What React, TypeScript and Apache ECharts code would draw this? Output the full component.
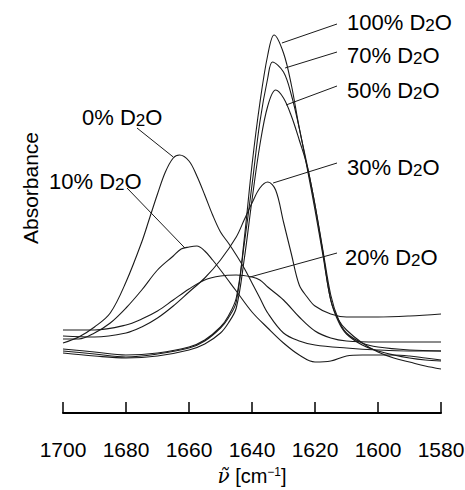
import React, { useEffect, useRef } from "react";
import * as echarts from "echarts";

// x-axis ticks (wavenumber, cm^-1)
const wavenumberTicks = [1700, 1680, 1660, 1640, 1620, 1600, 1580];

// Absorbance (arbitrary units), [wavenumber, absorbance]
const d2o0: [number, number][] = [[1700,70],[1695,76],[1690,86],[1685,100],[1680,131],[1675,171],[1672.5,195],[1670,219],[1667.5,241],[1665,255],[1663,258],[1660,252],[1657.5,237],[1655,218],[1652.5,198],[1650,181],[1647.5,170],[1645,158],[1642.5,145],[1640,130],[1637.5,115],[1635,100],[1630,80],[1625,72],[1620,68],[1610,65],[1600,63],[1590,62],[1580,62]];
const d2o10: [number, number][] = [[1700,74],[1695,74],[1690,80],[1685,90],[1680,105],[1675,123],[1670,143],[1665,157],[1662.5,164],[1660,166],[1657.5,167],[1655,162],[1652.5,153],[1650,143],[1645,122],[1640,101],[1635,85],[1630,70],[1625,58],[1620,51],[1615,52],[1610,57],[1605,58],[1600,58],[1595,58],[1590,57],[1585,55],[1580,53]];
const d2o20: [number, number][] = [[1700,83],[1690,83],[1680,88],[1675,94],[1670,102],[1665,113],[1660,124],[1655,133],[1650,137],[1645,138],[1640,136],[1637.5,133],[1635,126],[1630,113],[1625,96],[1620,82],[1615,75],[1610,72],[1600,71],[1590,71],[1580,71]];
const d2o30: [number, number][] = [[1700,77],[1690,76],[1680,80],[1675,86],[1670,95],[1665,107],[1660,121],[1655,135],[1650,153],[1645,176],[1642.5,193],[1640,210],[1637.5,225],[1635,231],[1632.5,223],[1630,191],[1627.5,159],[1625,128],[1622.5,116],[1620,107],[1615,99],[1610,96],[1600,96],[1590,97],[1580,99]];
const d2o50: [number, number][] = [[1700,60],[1690,57],[1680,55],[1670,57],[1660,63],[1655,69],[1650,80],[1647.5,90],[1645,105],[1642.5,153],[1640,213],[1637.5,268],[1635,307],[1632.5,323],[1630,315],[1627.5,297],[1625,273],[1622.5,247],[1620,208],[1617.5,163],[1615,118],[1612.5,93],[1610,80],[1605,70],[1600,66],[1590,63],[1580,62]];
const d2o70: [number, number][] = [[1700,64],[1690,61],[1680,58],[1670,60],[1660,66],[1655,73],[1650,86],[1647.5,97],[1645,115],[1642.5,168],[1640,228],[1637.5,291],[1635,335],[1633.5,351],[1630,341],[1627.5,318],[1625,285],[1622.5,245],[1620,203],[1617.5,158],[1615,113],[1612.5,91],[1610,79],[1605,68],[1600,62],[1595,58],[1590,55],[1585,53],[1580,52]];
const d2o100: [number, number][] = [[1700,62],[1690,59],[1680,56],[1670,59],[1660,65],[1655,72],[1650,85],[1647.5,95],[1645,111],[1642.5,173],[1640,248],[1637.5,310],[1635,358],[1633,378],[1630,360],[1627.5,328],[1625,285],[1622.5,248],[1620,208],[1617.5,161],[1615,113],[1612.5,93],[1610,83],[1605,70],[1600,61],[1595,55],[1590,51],[1585,47],[1580,44]];

const seriesNames = ["0%", "10%", "20%", "30%", "50%", "70%", "100%"];
const seriesData = [d2o0, d2o10, d2o20, d2o30, d2o50, d2o70, d2o100];

// label anchor on each curve (data coords)
const labelAnchors: [number, number][] = [[1665, 256], [1661.3, 165], [1640.6, 136], [1633.3, 230], [1629.2, 308], [1629.5, 345], [1630.5, 370]];

export default function App() {
  const ref = useRef<HTMLDivElement>(null);
  useEffect(() => {
    if (!ref.current) return;
    const chart = echarts.init(ref.current, null, { renderer: "svg" });
    const font = "'Liberation Sans', Arial, Helvetica, sans-serif";
    const ink = "#1a1a1a";
    chart.setOption({
      animation: false,
      backgroundColor: "#ffffff",
      grid: { left: 63, right: 24, top: 10, bottom: 77, containLabel: false, outerBoundsMode: "none" },
      xAxis: {
        type: "value",
        min: wavenumberTicks[wavenumberTicks.length - 1],
        max: wavenumberTicks[0],
        interval: 20,
        inverse: true,
        axisLine: { lineStyle: { color: "#000", width: 2 } },
        axisTick: { inside: true, length: 11, lineStyle: { color: "#000", width: 1.5 } },
        axisLabel: {
          margin: 26,
          fontSize: 21,
          color: "#000",
          fontFamily: font,
          formatter: (v: number) => String(v),
        },
        splitLine: { show: false },
        name: "{nu|\u03BD\u0303} [cm{sup|\u22121}]",
        nameLocation: "middle",
        nameGap: 53,
        nameTextStyle: {
          fontSize: 20,
          color: "#000",
          fontFamily: font,
          rich: {
            nu: { fontSize: 20, fontFamily: "'DejaVu Serif', serif", fontStyle: "italic", color: "#000" },
            sup: { fontSize: 12, verticalAlign: "top", color: "#000", fontFamily: font },
          },
        },
      },
      yAxis: { type: "value", min: 0, max: 403, show: false },
      series: seriesData.map((d, i) => ({
        name: seriesNames[i] + " D2O",
        type: "line",
        data: d,
        smooth: 0.35,
        showSymbol: false,
        symbol: "none",
        lineStyle: { color: ink, width: 1.1 },
        silent: true,
      })),
    });

    // label layout (pixels): leader end + text position
    const layout = [
      { end: [137, 128], tx: 82, ty: 117 },
      { end: [127, 188], tx: 49, ty: 181 },
      { end: [337, 253], tx: 345, ty: 257 },
      { end: [337, 163], tx: 347, ty: 167 },
      { end: [337, 86], tx: 347, ty: 90 },
      { end: [337, 52], tx: 347, ty: 55 },
      { end: [337, 24], tx: 347, ty: 22 },
    ];
    const graphics: any[] = [];
    layout.forEach((l, i) => {
      const p = chart.convertToPixel({ gridIndex: 0 }, labelAnchors[i]) as number[];
      graphics.push({
        type: "line",
        shape: { x1: p[0], y1: p[1], x2: l.end[0], y2: l.end[1] },
        style: { stroke: ink, lineWidth: 1 },
        silent: true,
      });
      graphics.push({
        type: "text",
        x: l.tx,
        y: l.ty,
        style: {
          text: "{n|" + seriesNames[i] + " D}{s|2}{n|O}",
          fill: "#000",
          verticalAlign: "middle",
          align: "left",
          rich: {
            n: { fontSize: 22, lineHeight: 24, fontFamily: font, fill: "#000" },
            s: { fontSize: 17, lineHeight: 17, verticalAlign: "bottom", fontFamily: font, fill: "#000" },
          },
        },
        silent: true,
      });
    });
    graphics.push({
      type: "text",
      x: 30,
      y: 188,
      rotation: Math.PI / 2,
      style: {
        text: "Absorbance",
        fontSize: 21,
        fontFamily: font,
        fill: "#000",
        align: "center",
        verticalAlign: "middle",
      },
      silent: true,
    });
    chart.setOption({ graphic: graphics });
    return () => chart.dispose();
  }, []);
  return (
    <div
      ref={ref}
      style={{ position: "fixed", left: 0, top: 0, width: 465, height: 490, background: "#fff" }}
    />
  );
}
